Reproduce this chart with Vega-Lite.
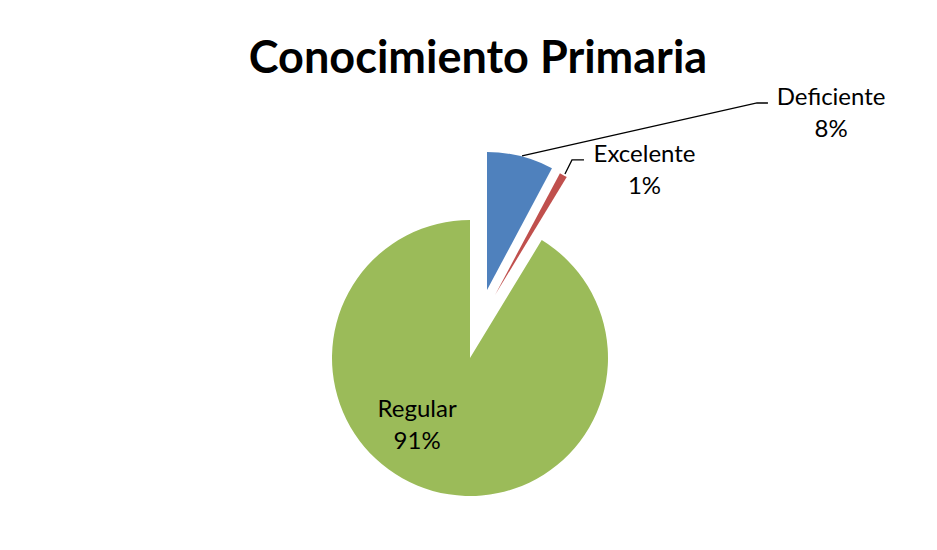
{
  "$schema": "https://vega.github.io/schema/vega-lite/v6.json",
  "width": 276,
  "height": 276,
  "autosize": "none",
  "padding": {"left": 332, "top": 220, "right": 329, "bottom": 54},
  "background": "white",
  "config": {"view": {"stroke": null}},
  "title": {
    "text": "Conocimiento Primaria",
    "font": "Lato",
    "fontSize": 45,
    "fontWeight": "bold",
    "color": "black",
    "anchor": "middle",
    "baseline": "alphabetic",
    "offset": -32,
    "dx": 8
  },
  "datasets": {
    "slices": [
      {"category": "Deficiente", "value": 7.8},
      {"category": "Excelente", "value": 0.9},
      {"category": "Regular", "value": 91.3}
    ],
    "leaders": [
      {"leader": "Deficiente", "step": 1, "ux": 0.377, "uy": 1.464},
      {"leader": "Deficiente", "step": 2, "ux": 2.08, "uy": 1.848},
      {"leader": "Deficiente", "step": 3, "ux": 2.159, "uy": 1.848},
      {"leader": "Excelente", "step": 1, "ux": 0.688, "uy": 1.333},
      {"leader": "Excelente", "step": 2, "ux": 0.739, "uy": 1.435},
      {"leader": "Excelente", "step": 3, "ux": 0.826, "uy": 1.435}
    ]
  },
  "layer": [
    {
      "data": {"name": "slices"},
      "transform": [
        {"stack": "value", "groupby": [], "as": ["v0", "v1"], "sort": [{"field": "category", "order": "ascending"}]},
        {"filter": "datum.category === 'Regular'"}
      ],
      "mark": {"type": "arc", "radius": 138},
      "encoding": {
        "theta": {"field": "v0", "type": "quantitative", "scale": {"domain": [0, 100], "range": [0, 6.283185307179586]}},
        "theta2": {"field": "v1"},
        "color": {"field": "category", "type": "nominal", "scale": {"domain": ["Deficiente", "Excelente", "Regular"], "range": ["#4F81BD", "#C0504D", "#9BBB59"]}, "legend": null}
      }
    },
    {
      "data": {"name": "slices"},
      "transform": [
        {"stack": "value", "groupby": [], "as": ["v0", "v1"], "sort": [{"field": "category", "order": "ascending"}]},
        {"filter": "datum.category === 'Deficiente'"}
      ],
      "mark": {"type": "arc", "radius": 138, "xOffset": 17, "yOffset": -68},
      "encoding": {
        "theta": {"field": "v0", "type": "quantitative"},
        "theta2": {"field": "v1"},
        "color": {"field": "category", "type": "nominal", "legend": null}
      }
    },
    {
      "data": {"name": "slices"},
      "transform": [
        {"stack": "value", "groupby": [], "as": ["v0", "v1"], "sort": [{"field": "category", "order": "ascending"}]},
        {"filter": "datum.category === 'Excelente'"}
      ],
      "mark": {"type": "arc", "radius": 138, "xOffset": 25, "yOffset": -63},
      "encoding": {
        "theta": {"field": "v0", "type": "quantitative"},
        "theta2": {"field": "v1"},
        "color": {"field": "category", "type": "nominal", "legend": null}
      }
    },
    {
      "data": {"name": "slices"},
      "transform": [
        {"stack": "value", "groupby": [], "as": ["v0", "v1"], "sort": [{"field": "category", "order": "ascending"}]},
        {"filter": "datum.category === 'Regular'"},
        {"calculate": "(datum.v0 + datum.v1) / 2", "as": "mid"},
        {"calculate": "datum.category + '\\n' + format(datum.value / 100, '.0%')", "as": "label"}
      ],
      "mark": {"type": "text", "radius": 70, "dx": -34, "dy": -15, "font": "Lato", "fontSize": 24, "lineHeight": 32, "lineBreak": "\n", "align": "center", "baseline": "middle", "color": "black"},
      "encoding": {
        "theta": {"field": "mid", "type": "quantitative"},
        "text": {"field": "label"}
      }
    },
    {
      "data": {"name": "slices"},
      "transform": [
        {"stack": "value", "groupby": [], "as": ["v0", "v1"], "sort": [{"field": "category", "order": "ascending"}]},
        {"filter": "datum.category === 'Deficiente'"},
        {"calculate": "(datum.v0 + datum.v1) / 2", "as": "mid"},
        {"calculate": "datum.category + '\\n' + format(datum.value / 100, '.0%')", "as": "label"}
      ],
      "mark": {"type": "text", "radius": 252, "dx": 300, "dy": -16, "font": "Lato", "fontSize": 24, "lineHeight": 32, "lineBreak": "\n", "align": "center", "baseline": "middle", "color": "black"},
      "encoding": {
        "theta": {"field": "mid", "type": "quantitative"},
        "text": {"field": "label"}
      }
    },
    {
      "data": {"name": "slices"},
      "transform": [
        {"stack": "value", "groupby": [], "as": ["v0", "v1"], "sort": [{"field": "category", "order": "ascending"}]},
        {"filter": "datum.category === 'Excelente'"},
        {"calculate": "(datum.v0 + datum.v1) / 2", "as": "mid"},
        {"calculate": "datum.category + '\\n' + format(datum.value / 100, '.0%')", "as": "label"}
      ],
      "mark": {"type": "text", "radius": 215, "dx": 68, "dy": -16, "font": "Lato", "fontSize": 24, "lineHeight": 32, "lineBreak": "\n", "align": "center", "baseline": "middle", "color": "black"},
      "encoding": {
        "theta": {"field": "mid", "type": "quantitative"},
        "text": {"field": "label"}
      }
    },
    {
      "data": {"name": "leaders"},
      "mark": {"type": "line", "color": "black", "strokeWidth": 1.3},
      "encoding": {
        "x": {"field": "ux", "type": "quantitative", "scale": {"domain": [-1, 1], "nice": false, "zero": false}, "axis": null},
        "y": {"field": "uy", "type": "quantitative", "scale": {"domain": [-1, 1], "nice": false, "zero": false}, "axis": null},
        "detail": {"field": "leader"},
        "order": {"field": "step"}
      }
    }
  ]
}
